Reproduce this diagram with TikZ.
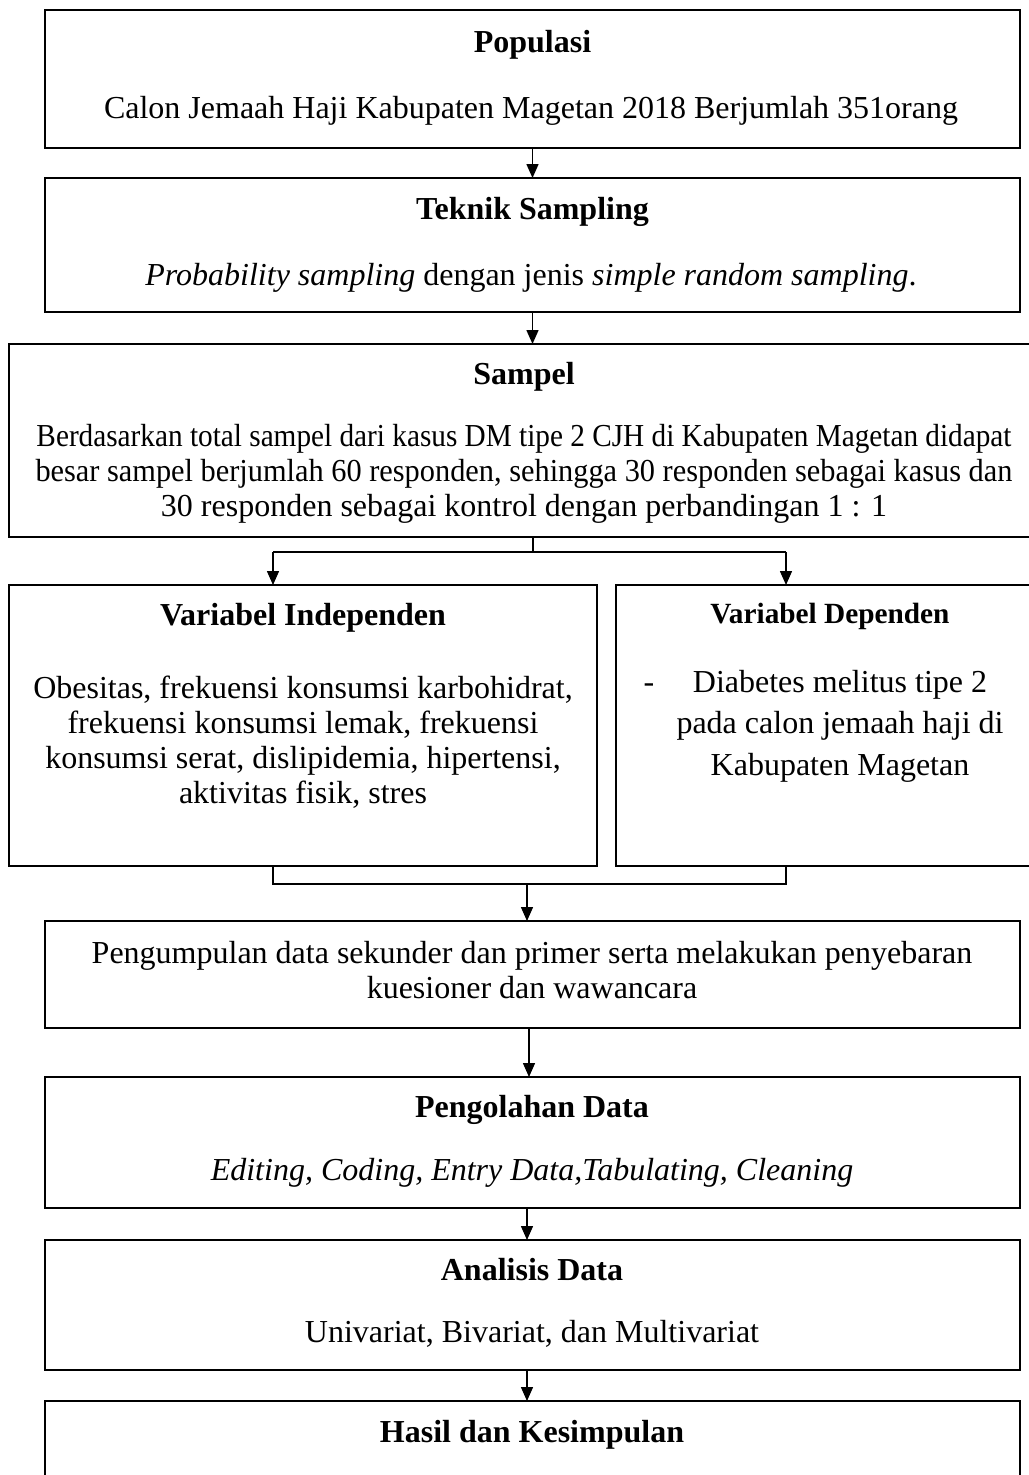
\documentclass[tikz,border=0pt]{standalone}
\usepackage{fontspec}
\usepackage{graphicx}
\setmainfont{Liberation Serif}
\usetikzlibrary{arrows.meta,calc}
\begin{document}
\begin{tikzpicture}[x=1pt,y=1pt,
  box/.style={draw, line width=1.6pt, inner sep=0pt, outer sep=0pt, anchor=north west},
  txt/.style={inner sep=0pt, anchor=base, font=\fontsize{32}{35}\selectfont},
  ttl/.style={inner sep=0pt, anchor=base, font=\fontsize{32}{35}\selectfont\bfseries},
  arr/.style={line width=1.5pt, -{Triangle[length=14pt,width=12pt]}},
  con/.style={line width=1.5pt}]
\useasboundingbox (0,0) rectangle (1028,-1475);

% boxes
\node[box, minimum width=975pt, minimum height=138pt] (pop) at (45,-10) {};
\node[box, minimum width=975pt, minimum height=134pt] (tek) at (45,-178) {};
\node[box, minimum width=1031pt, minimum height=193pt] (sam) at (9,-344) {};
\node[box, minimum width=588pt, minimum height=281pt] (ind) at (9,-585) {};
\node[box, minimum width=428pt, minimum height=281pt] (dep) at (616,-585) {};
\node[box, minimum width=975pt, minimum height=107pt] (kum) at (45,-921) {};
\node[box, minimum width=975pt, minimum height=131pt] (olah) at (45,-1077) {};
\node[box, minimum width=975pt, minimum height=130pt] (ana) at (45,-1240) {};
\node[box, minimum width=975pt, minimum height=130pt] (has) at (45,-1401) {};

% texts
\node[ttl] (popT) at (532.5,-52) {Populasi};
\node[txt] (popX) at (531,-118) {Calon Jemaah Haji Kabupaten Magetan 2018 Berjumlah 351orang};
\node[ttl] (tekT) at (532.5,-219) {Teknik Sampling};
\node[txt] (tekX) at (531,-285) {\textit{Probability sampling} dengan jenis \textit{simple random sampling}.};
\node[ttl] (samT) at (524,-384) {Sampel};
\node[txt] (samX) at (524,-446) {\begin{tabular}[t]{@{}c@{}}\resizebox{975pt}{\height}{Berdasarkan total sampel dari kasus DM tipe 2 CJH di Kabupaten Magetan didapat}\\\resizebox{977pt}{\height}{besar sampel berjumlah 60 responden, sehingga 30 responden sebagai kasus dan}\\30 responden sebagai kontrol dengan perbandingan 1 : 1\end{tabular}};
\node[ttl] (indT) at (303,-625) {Variabel Independen};
\node[txt] (indX) at (303,-698) {\begin{tabular}[t]{@{}c@{}}Obesitas, frekuensi konsumsi karbohidrat,\\frekuensi konsumsi lemak, frekuensi\\konsumsi serat, dislipidemia, hipertensi,\\aktivitas fisik, stres\end{tabular}};
\node[ttl, font=\fontsize{29.3}{35}\selectfont\bfseries] (depT) at (830,-623) {Variabel Dependen};
\node[txt] (depD) at (649,-692) {-};
\node[txt, font=\fontsize{32}{41.5}\selectfont] (depX) at (840,-692) {\begin{tabular}[t]{@{}c@{}}Diabetes melitus tipe 2\\pada calon jemaah haji di\\Kabupaten Magetan\end{tabular}};
\node[txt] (kumX) at (532,-963) {\begin{tabular}[t]{@{}c@{}}Pengumpulan data sekunder dan primer serta melakukan penyebaran\\kuesioner dan wawancara\end{tabular}};
\node[ttl] (olahT) at (532,-1117) {Pengolahan Data};
\node[txt] (olahX) at (532,-1180) {\textit{Editing, Coding, Entry Data,Tabulating, Cleaning}};
\node[ttl] (anaT) at (532,-1280) {Analisis Data};
\node[txt] (anaX) at (532,-1342) {Univariat, Bivariat, dan Multivariat};
\node[ttl] (hasT) at (532,-1442) {Hasil dan Kesimpulan};

% connectors
\draw[arr] (pop.south) -- (tek.north);
\draw[arr] (tek.south) -- (tek.south |- sam.north);

\coordinate (bc) at (533,-552);
\coordinate (bl) at (273,-552);
\coordinate (br) at (786,-552);
\draw[con] (sam.south -| bc) -- (bc);
\draw[con] (bl) -- (br);
\draw[arr] (bl) -- (bl |- ind.north);
\draw[arr] (br) -- (br |- dep.north);

\coordinate (ml) at (273,-884);
\coordinate (mr) at (786,-884);
\coordinate (mc) at (527,-884);
\draw[con] (ml |- ind.south) -- (ml) -- (mr) -- (mr |- dep.south);
\draw[arr] (mc) -- (mc |- kum.north);

\coordinate (k1) at (529,0);
\coordinate (k2) at (527,0);
\draw[arr] (kum.south -| k1) -- (olah.north -| k1);
\draw[arr] (olah.south -| k2) -- (ana.north -| k2);
\draw[arr] (ana.south -| k2) -- (has.north -| k2);
\end{tikzpicture}
\end{document}
